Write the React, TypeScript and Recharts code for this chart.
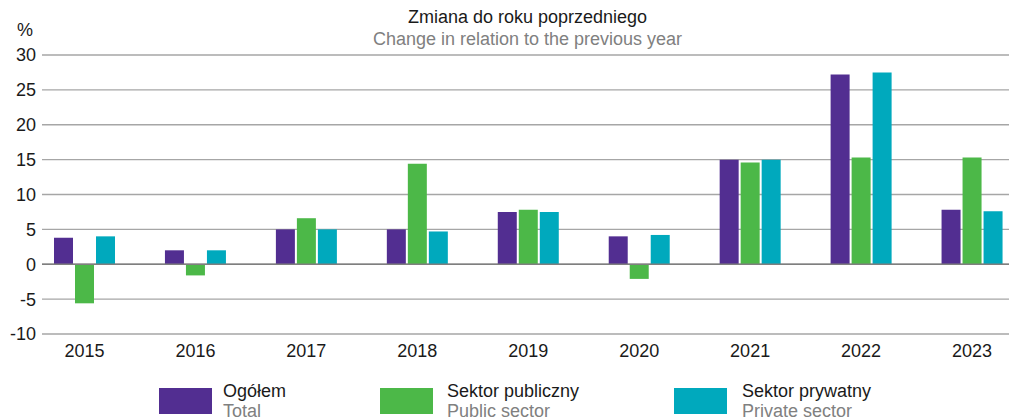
import { BarChart, Bar, XAxis, YAxis, CartesianGrid, ReferenceLine } from 'recharts';

// values (% change y/y)
const years = ['2015', '2016', '2017', '2018', '2019', '2020', '2021', '2022', '2023'];
const total = [3.8, 2.0, 5.0, 5.0, 7.5, 4.0, 15.0, 27.2, 7.8];
const publicSector = [-5.6, -1.6, 6.6, 14.4, 7.8, -2.1, 14.6, 15.3, 15.3];
const privateSector = [4.0, 2.0, 5.0, 4.7, 7.5, 4.2, 15.0, 27.5, 7.6];
const yTicks = [-10, -5, 0, 5, 10, 15, 20, 25, 30];

const seriesNames = [
  { key: 'total', pl: 'Ogółem', en: 'Total', color: '#522E91' },
  { key: 'publicSector', pl: 'Sektor publiczny', en: 'Public sector', color: '#4CB848' },
  { key: 'privateSector', pl: 'Sektor prywatny', en: 'Private sector', color: '#00A9BD' },
];

const legendSwatchX = [159, 380, 674];
const legendTextX = [223, 447, 742];

const data = years.map((year, i) => ({
  year,
  total: total[i],
  publicSector: publicSector[i],
  privateSector: privateSector[i],
}));

const font = '"Liberation Sans", Arial, sans-serif';

export default function App() {
  return (
    <div style={{ position: 'absolute', left: 0, top: 0, width: 1009, height: 419, fontFamily: font, background: '#fff', fontSize: 18 }}>
      <div style={{ position: 'absolute', left: 0, width: 1009, top: 7, textAlign: 'center', color: '#1a1a1a', paddingLeft: 46, boxSizing: 'border-box' }}>
        Zmiana do roku poprzedniego
      </div>
      <div style={{ position: 'absolute', left: 0, width: 1009, top: 29, textAlign: 'center', color: '#808080', paddingLeft: 46, boxSizing: 'border-box' }}>
        Change in relation to the previous year
      </div>
      <div style={{ position: 'absolute', left: 17, top: 20, color: '#1a1a1a' }}>%</div>

      <BarChart
        width={1009}
        height={419}
        data={data}
        margin={{ top: 55, right: 0, left: 0, bottom: 55 }}
        barSize={19}
        barGap={2}
      >
        <CartesianGrid vertical={false} stroke="#a6a6a6" strokeWidth={1.3} />
        <XAxis
          dataKey="year"
          axisLine={false}
          tickLine={false}
          height={30}
          tickMargin={4}
          padding={{ left: -13, right: -18.5 }}
          tick={{ fill: '#1a1a1a', fontSize: 18, fontFamily: font }}
        />
        <YAxis
          domain={[-10, 30]}
          ticks={yTicks}
          width={42}
          axisLine={false}
          tickLine={false}
          tickSize={4}
          tickMargin={2}
          interval={0}
          tick={{ fill: '#1a1a1a', fontSize: 18, fontFamily: font }}
        />
        <ReferenceLine y={0} stroke="#7f7f7f" strokeWidth={1.5} />
        {seriesNames.map((s) => (
          <Bar key={s.key} dataKey={s.key} fill={s.color} isAnimationActive={false} />
        ))}
      </BarChart>

      {seriesNames.map((s, i) => (
        <div key={s.key}>
          <div style={{ position: 'absolute', left: legendSwatchX[i], top: 388, width: 53, height: 26, background: s.color }} />
          <div style={{ position: 'absolute', left: legendTextX[i], top: 381, color: '#1a1a1a', whiteSpace: 'nowrap' }}>{s.pl}</div>
          <div style={{ position: 'absolute', left: legendTextX[i], top: 401, color: '#808080', whiteSpace: 'nowrap' }}>{s.en}</div>
        </div>
      ))}
    </div>
  );
}
